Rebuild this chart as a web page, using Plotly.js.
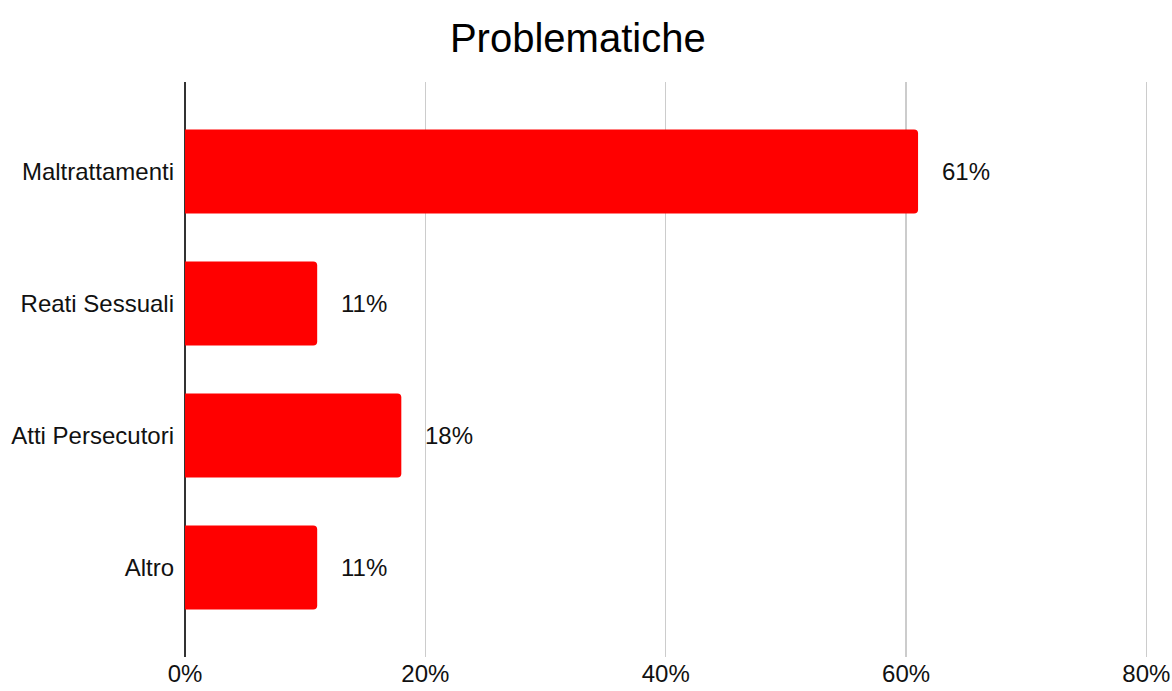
<!DOCTYPE html>
<html>
<head>
<meta charset="utf-8">
<script src="https://cdn.plot.ly/plotly-3.0.1.min.js"></script>
<style>html,body{margin:0;padding:0;background:#fff;}#chart{width:1172px;height:691px;}</style>
</head>
<body>
<div id="chart"></div>
<script>
const categories = ["Maltrattamenti", "Reati Sessuali", "Atti Persecutori", "Altro"];
const values = [0.61, 0.11, 0.18, 0.11];
const labels = ["61%", "11%", "18%", "11%"];
const xTicks = [0, 0.2, 0.4, 0.6, 0.8];
const xTickLabels = ["0%", "20%", "40%", "60%", "80%"];

const FONT = '"Liberation Sans", Arial, Helvetica, sans-serif';

const trace = {
  type: 'bar',
  orientation: 'h',
  x: values,
  y: categories,
  width: 0.636,
  marker: {color: '#ff0000'},
  hoverinfo: 'none'
};

const annotations = categories.map((c, i) => ({
  x: values[i], y: c, xref: 'x', yref: 'y',
  text: labels[i], showarrow: false,
  xanchor: 'left', yanchor: 'middle', xshift: 22,
  font: {family: FONT, size: 24, color: '#111'}
}));

const layout = {
  width: 1172, height: 691,
  margin: {l: 185, r: 22, t: 82, b: 34},
  paper_bgcolor: '#fff', plot_bgcolor: '#fff',
  font: {family: FONT, size: 24, color: '#111'},
  title: {text: 'Problematiche', x: 0.493, xref: 'container', xanchor: 'center',
          y: 1 - 38/691, yref: 'container', yanchor: 'middle',
          font: {family: FONT, size: 40, color: '#000'}},
  barcornerradius: 4,
  showlegend: false,
  xaxis: {
    range: [0, 0.803], tickvals: xTicks, ticktext: xTickLabels,
    showgrid: true, gridcolor: '#cccccc', gridwidth: 1.5,
    zeroline: true, zerolinecolor: '#333', zerolinewidth: 2,
    showline: false, ticks: '', fixedrange: true,
    tickfont: {family: FONT, size: 24, color: '#111'}
  },
  yaxis: {
    type: 'category', categoryorder: 'array', categoryarray: categories,
    range: [3.678, -0.678],
    showgrid: false, zeroline: false, showline: false, ticks: '',
    ticklabelstandoff: 10,
    tickfont: {family: FONT, size: 24, color: '#111'}
  },
  annotations: annotations
};

Plotly.newPlot('chart', [trace], layout, {displayModeBar: false, staticPlot: true});
</script>
</body>
</html>
